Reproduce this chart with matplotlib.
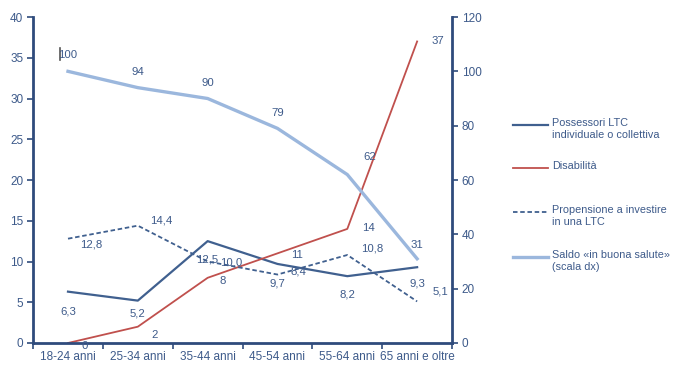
import matplotlib.pyplot as plt
from matplotlib.lines import Line2D
from matplotlib.transforms import ScaledTranslation

plt.rcParams['font.family'] = ['Liberation Sans Narrow', 'Liberation Sans', 'DejaVu Sans']

categorie = ["18-24 anni", "25-34 anni", "35-44 anni", "45-54 anni", "55-64 anni", "65 anni e oltre"]
possessori = [6.3, 5.2, 12.5, 9.7, 8.2, 9.3]
disabilita = [0, 2, 8, 11, 14, 37]
propensione = [12.8, 14.4, 10.0, 8.4, 10.8, 5.1]
saldo = [100, 94, 90, 79, 62, 31]

navy = "#2f4b7c"
txt = "#3d5a8a"
c_poss = "#40608f"
c_dis = "#c0504d"
c_sal = "#9bb7dd"

fig = plt.figure(figsize=(6.75, 3.78), dpi=100)
ax = fig.add_axes([0.049, 0.0926, 0.6207, 0.8624])
ax2 = ax.twinx()

x = list(range(len(categorie)))
ax.plot(x, possessori, color=c_poss, lw=1.6)
ax.plot(x, disabilita, color=c_dis, lw=1.3)
ax.plot(x, propensione, color=c_poss, lw=1.3, ls=(0, (2.5, 1.5)))
ax2.plot(x, saldo, color=c_sal, lw=2.4)

ax.set_xlim(-0.5, 5.5)
ax.set_ylim(0, 40)
ax2.set_ylim(0, 120)
ax.set_yticks(range(0, 41, 5))
ax2.set_yticks(range(0, 121, 20))
ax.set_xticks(x)
ax.set_xticklabels(categorie)
ax.set_xticks([i + 0.5 for i in range(-1, 6)], minor=True)

fs = 8.2
for a in (ax, ax2):
    for s in a.spines.values():
        s.set_visible(False)
    a.tick_params(labelcolor=txt, labelsize=fs + 0.3, color=navy)
ax.spines['left'].set_visible(True)
ax.spines['bottom'].set_visible(True)
ax2.spines['right'].set_visible(True)
for s in (ax.spines['left'], ax.spines['bottom'], ax2.spines['right']):
    s.set_color(navy)
    s.set_linewidth(2)
ax.tick_params(axis='x', which='major', length=0, pad=6)
ax.tick_params(axis='x', which='minor', length=4, width=1.2, color=navy, direction='out')
ax.tick_params(axis='y', length=4, width=1.2, direction='out', pad=3)
ax2.tick_params(axis='y', length=4, width=1.2, direction='out', pad=3)

def lab(axis, xi, yi, s, dx, dy):
    axis.annotate(s, (xi, yi), xytext=(dx, dy), textcoords='offset points',
                  ha='center', va='center', fontsize=fs, color=txt)

fmt = lambda v: f"{v:.1f}".replace(".", ",")
poss_off = [(0, -14), (0, -9), (0, -13), (0, -14), (0, -13), (0, -12)]
prop_off = [(17, -4), (17, 4), (17, -1), (15, 2), (18, 5), (17, 7)]
dis_off = [(12, -2), (12, -6), (11, -2), (14, -1), (15, 1), (15, 0)]
sal_off = [(0, 12), (0, 11), (0, 11), (0, 11), (16, 13), (0, 10)]
for i in x:
    lab(ax, i, possessori[i], fmt(possessori[i]), *poss_off[i])
    lab(ax, i, propensione[i], fmt(propensione[i]), *prop_off[i])
    lab(ax, i, disabilita[i], str(disabilita[i]), *dis_off[i])
    lab(ax2, i, saldo[i], str(saldo[i]), *sal_off[i])

# small stray mark beside the first label, as in the original
off = ScaledTranslation(-6 / 72, 0, fig.dpi_scale_trans)
ax2.add_line(Line2D([0, 0], [saldo[0] + 4, saldo[0] + 8.5], color="#555555", lw=1.2,
                    transform=ax2.transData + off, clip_on=False))

# legend
W, H = 675, 378
legend_items = [
    (125, "Possessori LTC\nindividuale o collettiva", dict(color=c_poss, lw=1.6)),
    (168, "Disabilità", dict(color=c_dis, lw=1.3)),
    (212, "Propensione a investire\nin una LTC", dict(color=c_poss, lw=1.3, ls=(0, (2.5, 1.5)))),
    (257, "Saldo «in buona salute»\n(scala dx)", dict(color=c_sal, lw=2.4)),
]
for yy, t, st in legend_items:
    fy = 1 - yy / H
    fig.add_artist(Line2D([513 / W, 548 / W], [fy, fy], **st))
    fig.text(552 / W, fy + 7 / H, t, ha='left', va='top', fontsize=fs - 0.4,
             color=txt, linespacing=1.3)

fig.savefig("out.png", dpi=100)
